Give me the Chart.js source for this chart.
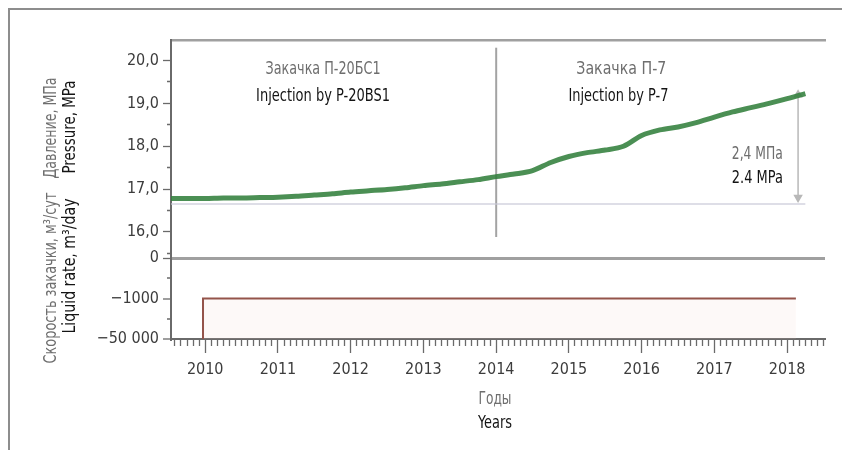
<!DOCTYPE html>
<html>
<head>
<meta charset="utf-8">
<script src="https://cdn.jsdelivr.net/npm/chart.js@4/dist/chart.umd.min.js"></script>
<style>
    html, body { margin: 0; padding: 0; background: #fff; }
    #moldura { position: absolute; left: 8px; top: 8px; right: 0; bottom: 0; border-top: 2px solid #8d8d8d; border-left: 2px solid #8d8d8d; }
    #grafico { position: absolute; left: 0; top: 0; }
</style>
</head>
<body>
<div id="moldura"></div>
<canvas id="grafico" width="842" height="450"></canvas>
<script>
// pressure history (MPa) by year
const pressureYears = [2009.53, 2009.8, 2010.0, 2010.25, 2010.5, 2010.75, 2011.0, 2011.25, 2011.5, 2011.75,
    2012.0, 2012.25, 2012.5, 2012.75, 2013.0, 2013.25, 2013.5, 2013.75, 2014.0, 2014.25, 2014.5, 2014.75,
    2015.0, 2015.25, 2015.5, 2015.75, 2016.0, 2016.25, 2016.5, 2016.75, 2017.0, 2017.25, 2017.5, 2017.75,
    2018.0, 2018.25];
const pressureValues = [16.78, 16.78, 16.78, 16.79, 16.79, 16.80, 16.81, 16.83, 16.86, 16.89,
    16.93, 16.96, 16.99, 17.03, 17.08, 17.12, 17.17, 17.22, 17.29, 17.35, 17.43, 17.62,
    17.76, 17.85, 17.91, 18.00, 18.25, 18.38, 18.45, 18.55, 18.68, 18.80, 18.90, 19.00,
    19.11, 19.23];

// injection rate, m3/day (category steps)
const rateLabels = ["0", "", "\u22121000", "", "\u221250 000"];
const rateYears = [2009.97, 2009.97, 2018.12];
const rateValues = ["\u221250 000", "\u22121000", "\u22121000"];

// reference lines
const baselinePressure = 16.65;
const baselineYears = [2009.53, 2018.25];
const switchYear = 2014;
const switchRange = [15.88, 20.3];
const deltaYear = 2018.15;
const deltaFrom = 16.8;
const deltaValue = 2.4;

// axes
const yearTicks = [2010, 2011, 2012, 2013, 2014, 2015, 2016, 2017, 2018];
const pressureTicks = [16, 17, 18, 19, 20];
const pressureTickLabels = ["16,0", "17,0", "18,0", "19,0", "20,0"];
const xMin = 2009.53, xMax = 2018.52;

const FONTE = "'DejaVu Sans Condensed', 'DejaVu Sans', sans-serif";
const CINZA = "#6e6e6e";
const PRETO = "#141414";
const TICK = "#3c3c3c";

const isYear = v => Math.abs(v - Math.round(v)) < 1e-6;

// text squeezed to a given width, so the narrow lettering fits
function texto(ctx, t, x, y, cor, tam, largura, rot) {
    ctx.save();
    ctx.translate(x, y);
    if (rot) ctx.rotate(rot);
    ctx.font = tam + "px " + FONTE;
    const w = ctx.measureText(t).width;
    ctx.scale(largura / w, 1);
    ctx.fillStyle = cor;
    ctx.textAlign = "center";
    ctx.textBaseline = "middle";
    ctx.fillText(t, 0, 0);
    ctx.restore();
}

const legendas = {
    id: "legendas",
    afterDraw(chart) {
        const ctx = chart.ctx;
        const x = chart.scales.x, yP = chart.scales.yP;
        // annotations inside the plot
        texto(ctx, "Закачка П-20БС1", x.getPixelForValue(2011.62), yP.getPixelForValue(19.78), CINZA, 17, 115);
        texto(ctx, "Injection by P-20BS1", x.getPixelForValue(2011.62), yP.getPixelForValue(19.16), PRETO, 18, 134);
        texto(ctx, "Закачка П-7", x.getPixelForValue(2015.72), yP.getPixelForValue(19.78), CINZA, 17, 90);
        texto(ctx, "Injection by P-7", x.getPixelForValue(2015.68), yP.getPixelForValue(19.16), PRETO, 18, 100);
        texto(ctx, "2,4 МПа", x.getPixelForValue(2017.59), yP.getPixelForValue(17.80), CINZA, 17, 51);
        texto(ctx, "2.4 MPa", x.getPixelForValue(2017.59), yP.getPixelForValue(17.26), PRETO, 18, 51);
        // axis titles
        texto(ctx, "Давление, МПа", 52, 128, CINZA, 17, 101, -Math.PI / 2);
        texto(ctx, "Pressure, MPa", 71, 127, PRETO, 17, 93, -Math.PI / 2);
        texto(ctx, "Скорость закачки, м\u00b3/сут", 52, 278, CINZA, 17, 171, -Math.PI / 2);
        texto(ctx, "Liquid rate, m\u00b3/day", 71, 266, PRETO, 17, 135, -Math.PI / 2);
        texto(ctx, "Годы", 495, 400, CINZA, 17, 33);
        texto(ctx, "Years", 495, 423, PRETO, 18, 34);
    }
};

document.addEventListener("DOMContentLoaded", function() {
    const ctx = document.getElementById("grafico").getContext("2d");
    new Chart(ctx, {
        type: "line",
        data: {
            datasets: [
                {
                    data: pressureYears.map((a, i) => ({ x: a, y: pressureValues[i] })),
                    xAxisID: "x", yAxisID: "yP",
                    borderColor: "rgba(50,128,60,0.88)",
                    borderWidth: 5,
                    pointRadius: 0,
                    tension: 0.3
                },
                {
                    data: baselineYears.map(a => ({ x: a, y: baselinePressure })),
                    xAxisID: "x", yAxisID: "yP",
                    borderColor: "rgba(200,200,215,0.6)",
                    borderWidth: 2,
                    pointRadius: 0
                },
                {
                    data: switchRange.map(v => ({ x: switchYear, y: v })),
                    xAxisID: "x", yAxisID: "yP",
                    borderColor: "#a3a3a3",
                    borderWidth: 2,
                    pointRadius: 0
                },
                {
                    data: [{ x: deltaYear, y: deltaFrom }, { x: deltaYear, y: deltaFrom + deltaValue }],
                    xAxisID: "x", yAxisID: "yP",
                    borderColor: "#b8b8b8",
                    borderWidth: 1.5,
                    pointStyle: "triangle",
                    pointRotation: [180, 0],
                    pointRadius: 4,
                    pointBackgroundColor: "#b8b8b8",
                    pointBorderColor: "#b8b8b8"
                },
                {
                    data: rateYears.map((a, i) => ({ x: a, y: rateValues[i] })),
                    xAxisID: "x", yAxisID: "yR",
                    borderColor: "#94544b",
                    borderWidth: 2,
                    pointRadius: 0,
                    fill: "start",
                    backgroundColor: "rgba(240,205,195,0.12)"
                }
            ]
        },
        options: {
            responsive: false,
            animation: false,
            events: [],
            layout: { padding: { left: 0, top: 40, right: 17, bottom: 0 } },
            plugins: { legend: { display: false }, tooltip: { enabled: false } },
            scales: {
                x: {
                    type: "linear", position: "bottom", min: xMin, max: xMax,
                    afterBuildTicks: s => {
                        const t = [];
                        for (let m = Math.ceil(xMin * 12); m <= Math.floor(xMax * 12); m++) t.push({ value: m / 12 });
                        s.ticks = t;
                    },
                    ticks: {
                        autoSkip: false, maxRotation: 0, padding: 7, color: TICK,
                        font: { family: FONTE, size: 16 },
                        callback: v => (isYear(v) && yearTicks.includes(Math.round(v))) ? String(Math.round(v)) : ""
                    },
                    grid: {
                        drawOnChartArea: false, tickLength: 14, tickColor: "#6a6a6a", tickWidth: 1.3,
                        tickBorderDash: c => (c.tick && !isYear(c.tick.value)) ? [6, 20] : []
                    },
                    border: { color: "#6a6a6a", width: 2 },
                    afterFit: s => { s.height = 111; }
                },
                xTop: {
                    type: "linear", position: "top", min: xMin, max: xMax,
                    ticks: { display: false },
                    grid: { display: false },
                    border: { color: "#a0a0a0", width: 2.5 },
                    afterFit: s => { s.height = 0; }
                },
                yR: {
                    type: "category", labels: rateLabels, position: "left",
                    stack: "esquerda", stackWeight: 81, offset: false,
                    ticks: { autoSkip: false, padding: 4, color: TICK, font: { family: FONTE, size: 16 } },
                    grid: {
                        drawOnChartArea: true, tickLength: 8, tickWidth: 1.3, tickColor: "#6a6a6a",
                        color: c => c.index === 0 ? "#a0a0a0" : "rgba(0,0,0,0)",
                        lineWidth: c => c.index === 0 ? 3 : 0,
                        tickBorderDash: c => (c.tick && c.tick.label === "") ? [0, 4, 4, 0] : []
                    },
                    border: { color: "#6a6a6a", width: 2 },
                    afterFit: s => { s.width = 171; }
                },
                yP: {
                    type: "linear", position: "left", min: 15.39, max: 20.48,
                    stack: "esquerda", stackWeight: 218,
                    afterBuildTicks: s => {
                        const t = [];
                        pressureTicks.forEach(v => { t.push({ value: v - 0.5 }); t.push({ value: v }); });
                        s.ticks = t;
                    },
                    ticks: {
                        autoSkip: false, padding: 4, color: TICK, font: { family: FONTE, size: 16 },
                        callback: v => {
                            const i = pressureTicks.indexOf(v);
                            return i >= 0 ? pressureTickLabels[i] : "";
                        }
                    },
                    grid: {
                        drawOnChartArea: false, tickLength: 8, tickWidth: 1.3, tickColor: "#6a6a6a",
                        tickBorderDash: c => (c.tick && !pressureTicks.includes(c.tick.value)) ? [0, 4, 4, 0] : []
                    },
                    border: { color: "#6a6a6a", width: 2 },
                    afterFit: s => { s.width = 171; }
                }
            }
        },
        plugins: [legendas]
    });
});
</script>
</body>
</html>
